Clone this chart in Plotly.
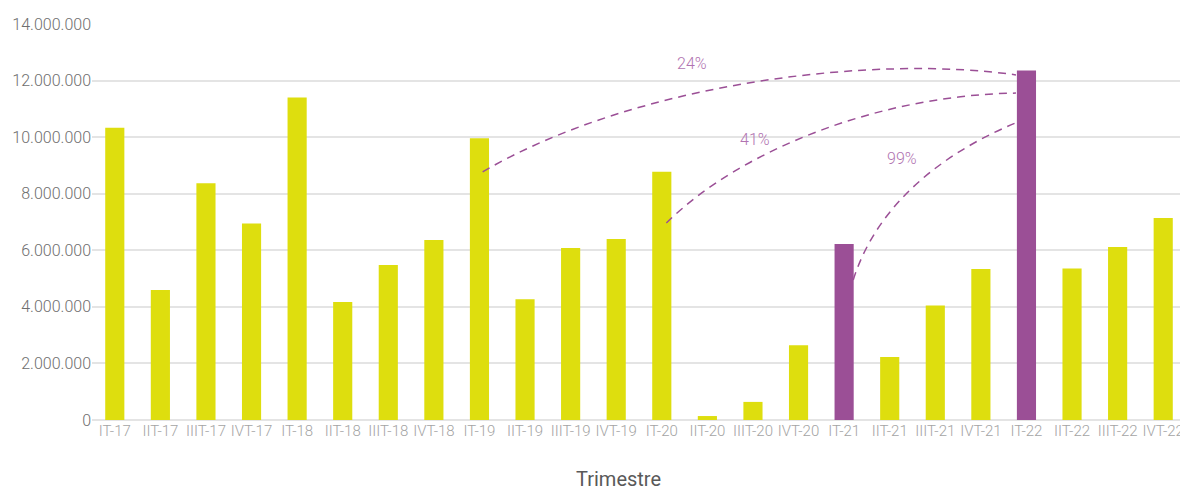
import plotly.graph_objects as go

labels = ["IT-17", "IIT-17", "IIIT-17", "IVT-17",
          "IT-18", "IIT-18", "IIIT-18", "IVT-18",
          "IT-19", "IIT-19", "IIIT-19", "IVT-19",
          "IT-20", "IIT-20", "IIIT-20", "IVT-20",
          "IT-21", "IIT-21", "IIIT-21", "IVT-21",
          "IT-22", "IIT-22", "IIIT-22", "IVT-22"]
values = [10330000, 4600000, 8370000, 6950000,
          11400000, 4170000, 5480000, 6360000,
          9960000, 4270000, 6080000, 6400000,
          8780000, 140000, 640000, 2640000,
          6220000, 2230000, 4050000, 5340000,
          12360000, 5360000, 6120000, 7140000]
highlight = ["IT-21", "IT-22"]
comparisons = ["IT-19", "IT-20", "IT-21"]  # each compared against target
target = "IT-22"
y_ticks = [0, 2000000, 4000000, 6000000, 8000000, 10000000, 12000000, 14000000]

YELLOW = "#DEDE0E"
PURPLE = "#9B4F96"
LABEL_PURPLE = "#B173B1"

x = list(range(len(labels)))
colors = [PURPLE if l in highlight else YELLOW for l in labels]

fig = go.Figure()
fig.add_trace(go.Bar(x=x, y=values, marker=dict(color=colors, line=dict(width=0)),
                     width=0.42, hoverinfo="skip"))

# curved dashed connectors (cubic Bezier in data space)
ti = labels.index(target)
tv = values[ti]
curve_geom = {
    "IT-19": dict(s=(0.07, 0.881), c1=(11.53, 12.02e6), c2=(16.79, 12.90e6), e=0.987, lab=(12.67, 12.59e6)),
    "IT-20": dict(s=(0.10, 0.793), c1=(13.72, 9.55e6), c2=(16.79, 11.49e6), e=0.935, lab=(14.05, 9.90e6)),
    "IT-21": dict(s=(0.20, 0.796), c1=(16.75, 7.78e6), c2=(18.32, 9.55e6), e=0.850, lab=(17.26, 9.26e6)),
}
shapes = []
annotations = []
for name in comparisons:
    i = labels.index(name)
    g = curve_geom[name]
    x0 = i + g["s"][0]
    y0 = values[i] * g["s"][1]
    x3 = ti - 0.23
    y3 = tv * g["e"]
    path = f"M {x0},{y0} C {g['c1'][0]},{g['c1'][1]} {g['c2'][0]},{g['c2'][1]} {x3},{y3}"
    shapes.append(dict(type="path", path=path, xref="x", yref="y",
                       line=dict(color=PURPLE, width=1.5, dash="8px,6px"), layer="above"))
    pct = round((tv / values[i] - 1) * 100)
    annotations.append(dict(x=g["lab"][0], y=g["lab"][1], xref="x", yref="y",
                            text=f"{pct}%", showarrow=False,
                            font=dict(family="Roboto", size=16, color=LABEL_PURPLE, weight=300)))

annotations.append(dict(x=0.481, y=-0.113, xref="paper", yref="paper", yanchor="top",
                        text="Trimestre", showarrow=False,
                        font=dict(family="Roboto", size=20, color="#595959")))

# the page body adds an 8px offset, so the figure is sized to fit the 1188x491 window
fig.update_layout(
    width=1180, height=483,
    margin=dict(l=84, r=2, t=16, b=71, autoexpand=False),
    paper_bgcolor="white", plot_bgcolor="white",
    showlegend=False,
    separators=",.",
    shapes=shapes,
    annotations=annotations,
    font=dict(family="Roboto"),
)
fig.update_xaxes(
    range=[-0.5, len(labels) - 0.5],
    tickmode="array", tickvals=x, ticktext=labels, tickangle=0,
    tickfont=dict(family="Roboto", size=15, color="#A4A4A4", weight=300),
    showgrid=False, zeroline=False, showline=False, ticks="",
    automargin=False,
)
fig.update_yaxes(
    range=[0, 14000000],
    tickmode="array", tickvals=y_ticks, tickformat=",d",
    tickfont=dict(family="Roboto", size=16, color="#6E6E6E", weight=300),
    showgrid=True, gridcolor="#E4E4E4", gridwidth=1.6,
    zeroline=True, zerolinecolor="#E4E4E4", zerolinewidth=1.6,
    showline=False, ticks="", automargin=False,
)

fig.write_html("out.html")
